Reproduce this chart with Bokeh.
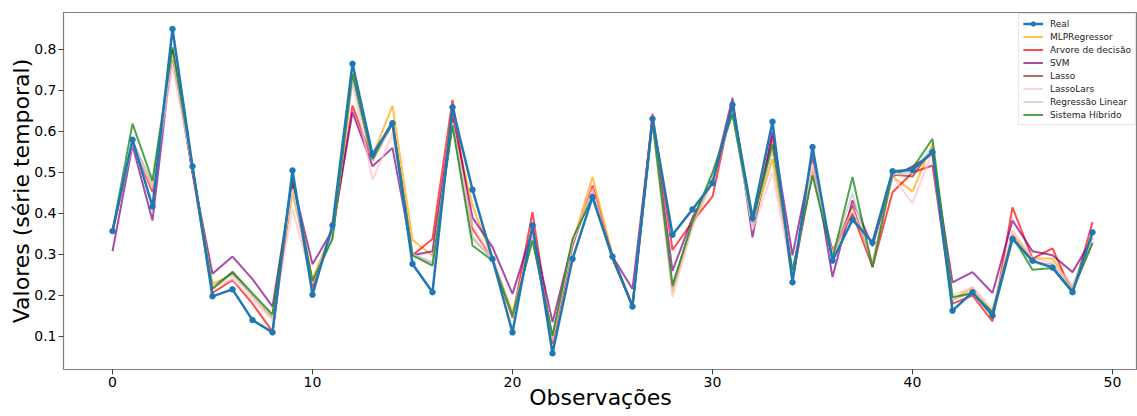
from bokeh.plotting import figure
from bokeh.models import Range1d, FixedTicker, Legend
from bokeh.embed import file_html
from bokeh.resources import INLINE

obs = list(range(50))

real = [0.357, 0.58, 0.417, 0.85, 0.515, 0.198, 0.215, 0.14, 0.110, 0.505,
        0.202, 0.371, 0.765, 0.544, 0.62, 0.277, 0.208, 0.659, 0.458, 0.289,
        0.110, 0.371, 0.059, 0.289, 0.440, 0.295, 0.173, 0.631, 0.348, 0.41,
        0.474, 0.665, 0.389, 0.624, 0.232, 0.562, 0.285, 0.385, 0.329, 0.503,
        0.506, 0.55, 0.163, 0.208, 0.151, 0.338, 0.285, 0.268, 0.208, 0.354]

mlp = [0.357, 0.575, 0.46, 0.80, 0.51, 0.229, 0.25, 0.2, 0.145, 0.448,
       0.24, 0.36, 0.74, 0.54, 0.663, 0.336, 0.297, 0.63, 0.42, 0.29,
       0.16, 0.35, 0.09, 0.33, 0.489, 0.3, 0.175, 0.625, 0.21, 0.37,
       0.48, 0.66, 0.37, 0.533, 0.24, 0.51, 0.30, 0.40, 0.28, 0.49,
       0.454, 0.57, 0.19, 0.22, 0.16, 0.35, 0.29, 0.29, 0.22, 0.35]

arvore = [0.357, 0.57, 0.452, 0.785, 0.50, 0.206, 0.238, 0.18, 0.112, 0.47,
          0.22, 0.35, 0.663, 0.53, 0.62, 0.298, 0.338, 0.677, 0.363, 0.29,
          0.145, 0.403, 0.082, 0.32, 0.468, 0.29, 0.175, 0.643, 0.311, 0.38,
          0.441, 0.67, 0.37, 0.59, 0.24, 0.50, 0.31, 0.40, 0.27, 0.452,
          0.50, 0.517, 0.18, 0.20, 0.137, 0.415, 0.29, 0.315, 0.205, 0.379]

svm = [0.308, 0.566, 0.383, 0.80, 0.50, 0.253, 0.295, 0.24, 0.173, 0.48,
       0.276, 0.36, 0.647, 0.515, 0.56, 0.298, 0.308, 0.64, 0.39, 0.318,
       0.204, 0.36, 0.135, 0.33, 0.45, 0.295, 0.216, 0.63, 0.26, 0.39,
       0.48, 0.682, 0.342, 0.60, 0.298, 0.54, 0.245, 0.432, 0.32, 0.49,
       0.515, 0.545, 0.232, 0.257, 0.206, 0.383, 0.308, 0.298, 0.257, 0.34]

lasso = [0.357, 0.575, 0.47, 0.79, 0.51, 0.22, 0.255, 0.2, 0.15, 0.47,
         0.235, 0.345, 0.73, 0.53, 0.62, 0.30, 0.28, 0.62, 0.34, 0.29,
         0.15, 0.34, 0.1, 0.33, 0.45, 0.29, 0.175, 0.625, 0.22, 0.38,
         0.49, 0.645, 0.37, 0.56, 0.255, 0.50, 0.30, 0.42, 0.275, 0.495,
         0.49, 0.56, 0.19, 0.21, 0.155, 0.345, 0.28, 0.275, 0.215, 0.33]

lassolars = [0.357, 0.57, 0.46, 0.76, 0.51, 0.22, 0.24, 0.19, 0.14, 0.411,
             0.23, 0.35, 0.72, 0.482, 0.594, 0.30, 0.273, 0.62, 0.37, 0.29,
             0.155, 0.35, 0.09, 0.33, 0.46, 0.29, 0.18, 0.62, 0.196, 0.37,
             0.48, 0.65, 0.36, 0.50, 0.25, 0.52, 0.30, 0.41, 0.28, 0.49,
             0.425, 0.55, 0.2, 0.22, 0.165, 0.36, 0.29, 0.28, 0.225, 0.34]

linear = [0.357, 0.575, 0.47, 0.79, 0.51, 0.22, 0.25, 0.2, 0.15, 0.46,
          0.235, 0.345, 0.73, 0.53, 0.62, 0.30, 0.28, 0.62, 0.34, 0.29,
          0.15, 0.34, 0.1, 0.33, 0.45, 0.29, 0.175, 0.625, 0.22, 0.38,
          0.49, 0.645, 0.37, 0.56, 0.255, 0.50, 0.30, 0.45, 0.275, 0.495,
          0.50, 0.56, 0.19, 0.21, 0.155, 0.345, 0.28, 0.275, 0.215, 0.33]

hibrido = [0.357, 0.619, 0.48, 0.806, 0.515, 0.216, 0.258, 0.205, 0.154, 0.489,
           0.235, 0.338, 0.741, 0.533, 0.627, 0.298, 0.273, 0.615, 0.322, 0.285,
           0.151, 0.334, 0.102, 0.338, 0.44, 0.29, 0.175, 0.625, 0.224, 0.38,
           0.50, 0.643, 0.38, 0.57, 0.261, 0.493, 0.29, 0.489, 0.269, 0.499,
           0.51, 0.582, 0.196, 0.205, 0.16, 0.344, 0.263, 0.267, 0.211, 0.328]

x_ticks = [0, 10, 20, 30, 40, 50]
y_ticks = [0.1, 0.2, 0.3, 0.4, 0.5, 0.6, 0.7, 0.8]

FONT = "DejaVu Sans"

p = figure(width=1137, height=416, output_backend="svg", toolbar_location=None,
           x_range=Range1d(-2.45, 51.25), y_range=Range1d(0.0195, 0.8902),
           min_border_left=63, min_border_right=0, min_border_top=12,
           min_border_bottom=47)
p.grid.visible = False
p.outline_line_color = "#7f7f7f"
p.outline_line_width = 1.2
p.background_fill_color = "white"
p.border_fill_color = "white"

for ax in (p.xaxis[0], p.yaxis[0]):
    ax.axis_line_color = "#7f7f7f"
    ax.major_tick_line_color = "#444444"
    ax.major_tick_out = 5
    ax.major_tick_in = 0
    ax.minor_tick_line_color = None
    ax.major_label_text_font = FONT
    ax.major_label_text_font_size = "14px"
    ax.major_label_text_color = "black"
    ax.major_label_standoff = 2
    ax.axis_label_text_font = FONT
    ax.axis_label_text_font_size = "22px"
    ax.axis_label_text_font_style = "normal"
    ax.axis_label_text_color = "black"

p.xaxis.axis_label_standoff = -5
p.yaxis.axis_label_standoff = -3
p.xaxis.axis_label = "Observações"
p.yaxis.axis_label = "Valores (série temporal)"
p.xaxis.ticker = FixedTicker(ticks=x_ticks)
p.yaxis.ticker = FixedTicker(ticks=y_ticks)

series = [
    ("MLPRegressor", mlp, "orange", 0.7, 2),
    ("Arvore de decisão", arvore, "red", 0.7, 2),
    ("SVM", svm, "purple", 0.7, 2),
    ("Lasso", lasso, "brown", 0.7, 2),
    ("LassoLars", lassolars, "pink", 0.7, 2),
    ("Regressão Linear", linear, "lightgray", 0.9, 2),
    ("Sistema Híbrido", hibrido, "green", 0.7, 2),
]

renderers = {}
for name, ys, col, a, w in series:
    renderers[name] = p.line(obs, ys, line_color=col, line_alpha=a, line_width=w)
rl = p.line(obs, real, line_color="#1f77b4", line_width=2.5)
rs = p.scatter(obs, real, size=5.5, fill_color="#1f77b4", line_color="#1f77b4")

items = [("Real", [rl, rs])]
for name, *_ in series:
    items.append((name, [renderers[name]]))

legend = Legend(items=items, location="top_right")
legend.label_text_font = FONT
legend.label_text_font_size = "9px"
legend.label_text_color = "#222222"
legend.label_height = 11
legend.glyph_height = 11
legend.glyph_width = 20
legend.label_standoff = 7
legend.spacing = 2
legend.padding = 4
legend.margin = 1
legend.border_line_color = "#cccccc"
legend.border_line_width = 1
legend.background_fill_alpha = 0.85
p.add_layout(legend)

open("out.html", "w").write(file_html(p, INLINE))
